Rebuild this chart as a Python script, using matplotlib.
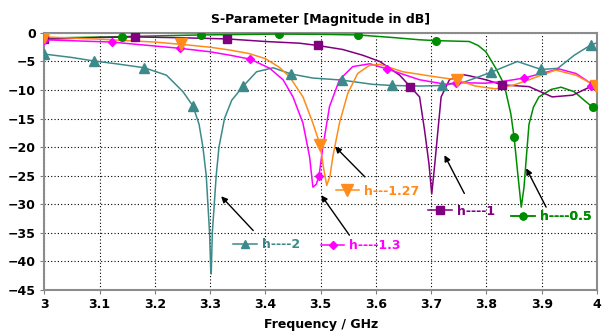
import matplotlib
matplotlib.use("Agg")
from matplotlib import pyplot as plt
import numpy as np

# Data (frequency in GHz, magnitude in dB)
h2_f = [3.0, 3.05, 3.089, 3.13, 3.181, 3.221, 3.251, 3.269, 3.28, 3.287, 3.293, 3.299,
        3.301, 3.302, 3.304, 3.308, 3.311, 3.316, 3.326, 3.339, 3.36, 3.384, 3.414, 3.447,
        3.486, 3.538, 3.594, 3.629, 3.68, 3.719, 3.76, 3.808, 3.856, 3.899, 3.929, 3.959,
        3.989, 3.998]
h2_db = [-3.7, -4.3, -4.9, -5.4, -6.1, -7.4, -10.3, -12.8, -16, -20, -25, -35,
         -41, -42.2, -35, -29.3, -25, -20, -15, -11.8, -9.3, -6.8, -6.1, -7.2,
         -7.9, -8.25, -9.0, -9.2, -9.3, -9.2, -8.6, -6.9, -5.0, -6.4, -6.2, -3.9,
         -2.1, -1.8]
h2_mf = [3.0, 3.089, 3.181, 3.269, 3.36, 3.447, 3.538, 3.629, 3.719, 3.808, 3.899, 3.989]
h2_mdb = [-3.7, -4.9, -6.1, -12.8, -9.3, -7.2, -8.25, -9.2, -9.2, -6.9, -6.4, -2.1]

h127_f = [3.0, 3.1, 3.2, 3.248, 3.3, 3.336, 3.37, 3.40, 3.425, 3.444, 3.468, 3.486,
          3.499, 3.505, 3.511, 3.517, 3.522, 3.534, 3.549, 3.567, 3.588, 3.607, 3.649,
          3.709, 3.746, 3.78, 3.817, 3.85, 3.877, 3.925, 3.962, 3.998]
h127_db = [-0.7, -1.1, -1.6, -2.0, -2.5, -3.0, -3.6, -4.5, -6.0, -7.7, -11.2, -15.8,
           -19.6, -23.5, -26.7, -25, -21.7, -15.8, -10.6, -7.1, -5.7, -5.5, -6.8,
           -7.7, -8.2, -9.3, -9.8, -9.1, -8.2, -6.5, -7.4, -9.3]
h127_mf = [3.0, 3.248, 3.499, 3.747, 3.998]
h127_mdb = [-0.7, -2.0, -19.6, -8.2, -9.3]

h13_f = [3.0, 3.122, 3.246, 3.3, 3.336, 3.373, 3.408, 3.432, 3.45, 3.468, 3.48, 3.486,
         3.492, 3.497, 3.504, 3.516, 3.534, 3.558, 3.589, 3.62, 3.679, 3.727, 3.745,
         3.799, 3.829, 3.868, 3.931, 3.962, 3.998]
h13_db = [-1.2, -1.6, -2.7, -3.3, -3.9, -4.6, -6.2, -8.2, -11.2, -15.8, -21.7, -27,
          -26.5, -25.1, -20, -12.9, -8.2, -5.9, -5.4, -6.3, -8.2, -9.0, -8.7,
          -8.8, -8.5, -7.9, -6.3, -7.1, -9.4]
h13_mf = [3.0, 3.122, 3.246, 3.373, 3.497, 3.62, 3.745, 3.868, 3.99]
h13_mdb = [-1.2, -1.6, -2.7, -4.6, -25.1, -6.3, -8.7, -7.9, -9.3]

h1_f = [3.0, 3.1, 3.164, 3.25, 3.331, 3.40, 3.462, 3.495, 3.54, 3.576, 3.607, 3.643,
        3.662, 3.679, 3.688, 3.696, 3.701, 3.706, 3.712, 3.718, 3.733, 3.757, 3.769,
        3.799, 3.829, 3.877, 3.919, 3.956, 3.995]
h1_db = [-1.1, -0.8, -0.7, -0.85, -1.05, -1.5, -1.8, -2.2, -2.9, -3.9, -5.0, -7.4,
         -9.4, -11.2, -17, -22.9, -28.2, -23.5, -17.3, -11.2, -8.2, -7.3, -7.5,
         -8.2, -9.1, -9.4, -11.2, -10.9, -9.1]
h1_mf = [3.0, 3.164, 3.331, 3.495, 3.662, 3.829, 3.995]
h1_mdb = [-1.1, -0.65, -1.05, -2.2, -9.4, -9.1, -9.1]

h05_f = [3.0, 3.141, 3.283, 3.425, 3.5, 3.567, 3.63, 3.679, 3.709, 3.769, 3.785, 3.799,
         3.817, 3.832, 3.844, 3.85, 3.856, 3.863, 3.868, 3.872, 3.877, 3.885, 3.895,
         3.917, 3.935, 3.959, 3.977, 3.992]
h05_db = [-0.9, -0.65, -0.35, -0.2, -0.25, -0.35, -0.8, -1.2, -1.35, -1.5, -2.2, -3.3,
          -6.2, -9.0, -14.1, -18.2, -24, -30.5, -27, -22, -16, -13, -11.2,
          -9.9, -9.5, -10.3, -11.8, -13.0]
h05_mf = [3.0, 3.141, 3.283, 3.425, 3.567, 3.709, 3.850, 3.992]
h05_mdb = [-0.9, -0.65, -0.35, -0.2, -0.35, -1.35, -18.2, -13.0]

xticks = [3.0, 3.1, 3.2, 3.3, 3.4, 3.5, 3.6, 3.7, 3.8, 3.9, 4.0]
xtick_labels = ["3", "3.1", "3.2", "3.3", "3.4", "3.5", "3.6", "3.7", "3.8", "3.9", "4"]
yticks = [0, -5, -10, -15, -20, -25, -30, -35, -40, -45]

# Colours
c_teal = "#3d8a8a"
c_orange = "#ff8c1a"
c_magenta = "#ff00ff"
c_purple = "#800080"
c_green = "#008c00"

plt.rcParams["font.family"] = "DejaVu Sans"
plt.rcParams["font.weight"] = "bold"

fig = plt.figure(figsize=(6.03, 3.36), dpi=100)
ax = fig.add_axes([0.0735, 0.137, 0.9165, 0.765])

# Curves
series = [
    (h05_f, h05_db, h05_mf, h05_mdb, c_green, "o", 5.5, "h----0.5"),
    (h1_f, h1_db, h1_mf, h1_mdb, c_purple, "s", 6, "h----1"),
    (h2_f, h2_db, h2_mf, h2_mdb, c_teal, "^", 6.5, "h----2"),
    (h13_f, h13_db, h13_mf, h13_mdb, c_magenta, "D", 4.5, "h----1.3"),
    (h127_f, h127_db, h127_mf, h127_mdb, c_orange, "v", 9, "h---1.27"),
]
handles = {}
for f, db, mf, mdb, col, mk, ms, lab in series:
    ax.plot(f, db, color=col, linewidth=1.1, zorder=3)
    ax.plot(mf, mdb, linestyle="none", marker=mk, markersize=ms,
            color=col, zorder=4)
    handles[lab] = plt.Line2D([], [], color=col, linewidth=1.1, marker=mk,
                              markersize=ms * 0.9)

ax.set_xlim(3, 4)
ax.set_ylim(-45, 0)
ax.set_xticks(xticks)
ax.set_xticklabels(xtick_labels)
ax.set_yticks(yticks)
ax.tick_params(axis="both", labelsize=9, length=3, color="#808080", pad=3)
for lbl in ax.get_xticklabels() + ax.get_yticklabels():
    lbl.set_fontweight("bold")
ax.grid(True, color="black", linestyle=(0, (1, 2)), linewidth=0.8)
for sp in ax.spines.values():
    sp.set_color("#8c8c8c")
    sp.set_linewidth(1.5)

ax.set_title("S-Parameter [Magnitude in dB]", fontsize=9, fontweight="bold", pad=7)
ax.set_xlabel("Frequency / GHz", fontsize=9, fontweight="bold", labelpad=5)

# Arrows pointing at the dips
arrows = [
    ((3.320, -28.6), (3.378, -34.6)),
    ((3.501, -28.4), (3.552, -35.4)),
    ((3.526, -19.9), (3.580, -25.2)),
    ((3.724, -21.4), (3.760, -28.1)),
    ((3.872, -23.7), (3.908, -30.5)),
]
for head, tail in arrows:
    ax.annotate("", xy=head, xytext=tail,
                arrowprops=dict(arrowstyle="-|>", color="black", lw=1.0,
                                mutation_scale=9, shrinkA=0, shrinkB=0), zorder=5)

# Labels with line + marker samples
labels = [
    ("h----2", c_teal, (3.342, -37.1)),
    ("h----1.3", c_magenta, (3.500, -37.2)),
    ("h---1.27", c_orange, (3.527, -27.7)),
    ("h----1", c_purple, (3.694, -31.2)),
    ("h----0.5", c_green, (3.844, -32.2)),
]
for lab, col, pos in labels:
    leg = ax.legend([handles[lab]], [lab], loc="center left", bbox_to_anchor=pos,
                    bbox_transform=ax.transData, frameon=False, borderpad=0,
                    borderaxespad=0, handlelength=1.9, handletextpad=0.4,
                    prop=dict(size=9, weight="bold"))
    for t in leg.get_texts():
        t.set_color(col)
    ax.add_artist(leg)

fig.savefig("out.png", dpi=100)
